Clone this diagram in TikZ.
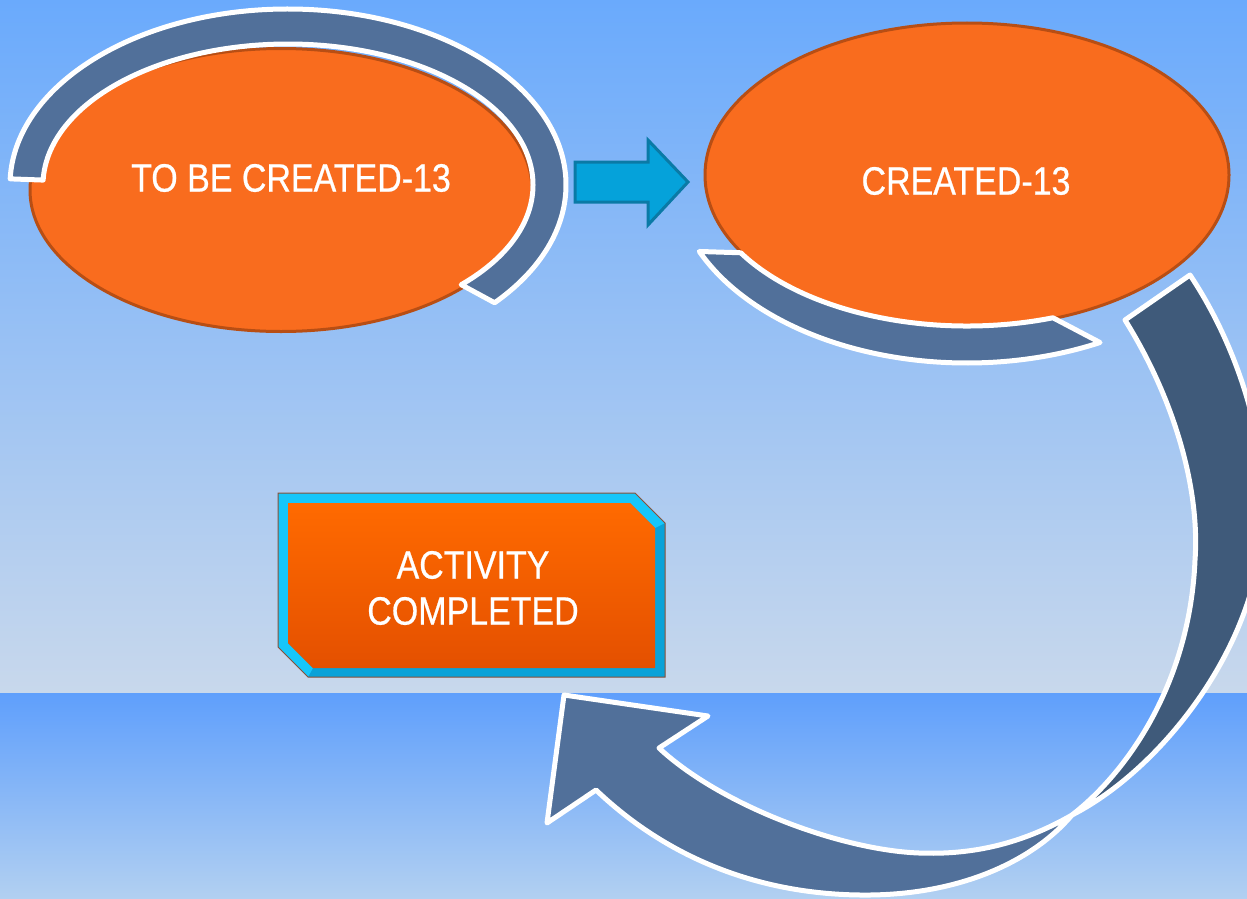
\documentclass[tikz,border=0pt]{standalone}
\usepackage{fontspec}
\newfontfamily\narrowsans[FakeStretch=0.86,FakeBold=0.6]{Liberation Sans}
\usetikzlibrary{shapes.geometric,calc}
\definecolor{bgtop}{HTML}{6AAAFC}
\definecolor{bgmid}{HTML}{88BFFB}
\definecolor{bgbot}{HTML}{C8D8EC}
\definecolor{lotop}{HTML}{5F9FFC}
\definecolor{lomid}{HTML}{80BBFB}
\definecolor{lobot}{HTML}{B2D0F1}
\definecolor{ellfill}{HTML}{F96C1E}
\definecolor{elledge}{HTML}{B84E14}
\definecolor{bandblue}{HTML}{51709A}
\definecolor{banddark}{HTML}{3F5A7A}
\definecolor{arrowfill}{HTML}{05A2DA}
\definecolor{arrowedge}{HTML}{0A7AA6}
\definecolor{cyanlight}{HTML}{16C6FA}
\definecolor{cyandark}{HTML}{0AA2D8}
\definecolor{boxtop}{HTML}{FF6A00}
\definecolor{boxbot}{HTML}{E45000}
\definecolor{boxedge}{HTML}{8A5038}
\begin{document}
\begin{tikzpicture}[x=1pt,y=-1pt,
  orangeell/.style={ellipse, fill=ellfill, draw=elledge, line width=3pt, inner sep=0pt},
  band/.style={fill=bandblue, draw=white, line width=5pt, line join=round},
  bandback/.style={fill=banddark, draw=white, line width=5pt, line join=round},
  lbl/.style={text=white, font=\narrowsans\fontsize{39.5}{46}\selectfont, align=center, inner sep=0pt},
  blockarrow/.style={fill=arrowfill, draw=arrowedge, line width=3pt, line join=miter}]
\useasboundingbox (0,0) rectangle (1247,899);
\clip (0,0) rectangle (1247,899);
% background
\shade[top color=bgtop, middle color=bgmid, bottom color=bgbot] (0,0) rectangle (1247,693);
\shade[top color=lotop, middle color=lomid, bottom color=lobot] (0,693) rectangle (1247,899);

% ellipses
\node[orangeell, minimum width=502pt, minimum height=283pt] (e1) at (281,190) {};
\node[orangeell, minimum width=524pt, minimum height=304pt] (e2) at (967,175) {};

% band around ellipse 1
\coordinate (c1) at (288,185);
\path[band] ($(c1)+(-178:278 and 176)$) arc[start angle=-178, end angle=42, x radius=278, y radius=176]
  -- ($(c1)+(45:245 and 141)$) arc[start angle=45, end angle=-178, x radius=245, y radius=141] -- cycle;

% band under ellipse 2
\coordinate (c2) at (967,175);
\path[band] ($(c2)+(156:293 and 188)$) arc[start angle=156, end angle=63, x radius=293, y radius=188]
  -- ($(c2)+(71:264 and 151)$) arc[start angle=71, end angle=149, x radius=264, y radius=151] -- cycle;

% texts of ellipses
\node[lbl] (t1) at (291,178) {TO BE CREATED-13};
\node[lbl] (t2) at (966,181) {CREATED-13};

% straight block arrow
\path[blockarrow] (575,162) -- (648,162) -- (648,140) -- (688,182) -- (648,225) -- (648,202) -- (575,202) -- cycle;

% box
\fill[cyandark] (278,493) -- (635,493) -- (665,523) -- (665,677) -- (308,677) -- (278,647) -- cycle;
\fill[cyanlight] (278,647) -- (278,493) -- (635,493) -- (665,523) -- (655,528) -- (630,503) -- (288,503) -- (288,643) -- (313,668) -- (308,677) -- cycle;
\shade[top color=boxtop, bottom color=boxbot] (288,503) -- (630,503) -- (655,528) -- (655,668) -- (313,668) -- (288,643) -- cycle;
\draw[boxedge, line width=1pt] (278,493) -- (635,493) -- (665,523) -- (665,677) -- (308,677) -- (278,647) -- cycle;
\node[lbl] (box) at (473,588) {ACTIVITY\\COMPLETED};

% big curved arrow
\coordinate (pinch) at (1072,815);
\coordinate (tailout) at (1190,275);
\coordinate (tailin) at (1125,320);
% back (dark) part
\path[bandback] (tailout) .. controls (1240,350) and (1270,450) .. (1262,530)
  .. controls (1255,650) and (1160,770) .. (pinch)
  .. controls (1130,770) and (1190,680) .. (1195,560)
  .. controls (1200,490) and (1175,400) .. (tailin) -- cycle;
% front (light) part with head
\path[band] (pinch) .. controls (1020,845) and (970,855) .. (919,853)
  .. controls (840,850) and (720,805) .. (659,748)
  -- (708,716) -- (564,695) -- (547,823) -- (596,790)
  .. controls (680,870) and (780,896) .. (870,895)
  .. controls (960,894) and (1032,862) .. (pinch) -- cycle;
\end{tikzpicture}
\end{document}
